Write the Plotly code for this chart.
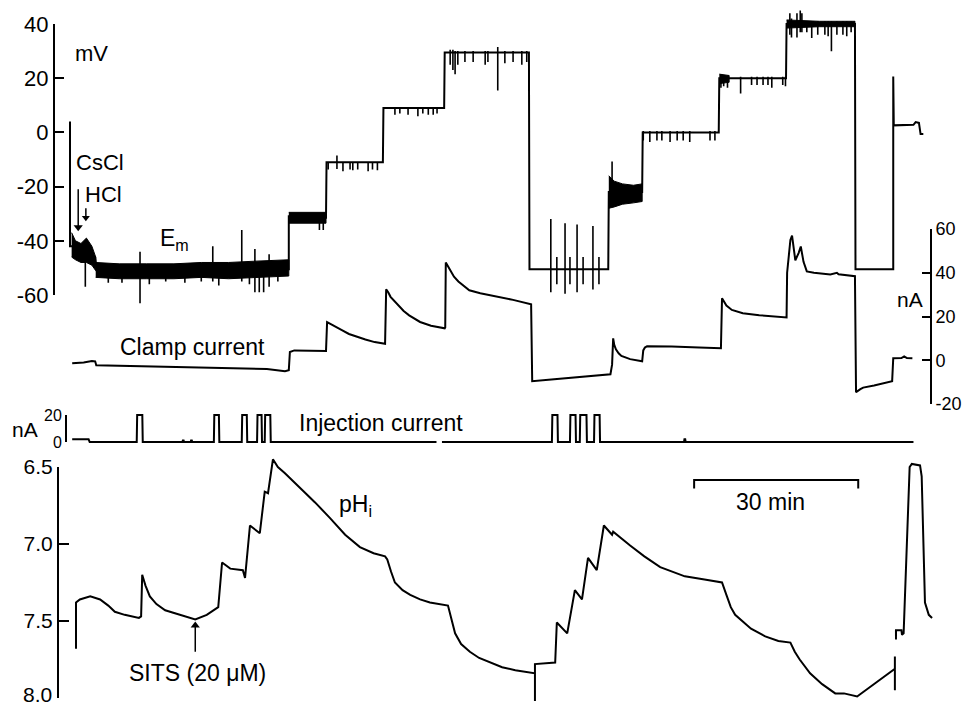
import plotly.graph_objects as go

# ---------------- data (time in min) ----------------
# Membrane potential Em (mV): main step trace
em_t = [0.0, 0.0, 0.4, 1.5, 2.5, 3.5, 4.6, 4.9, 10.0, 20.0, 30.0, 40.0, 40.0,
        46.8, 46.9, 57.2, 57.3, 68.4, 68.5, 83.9, 84.0, 98.4, 98.5, 104.6, 104.7,
        118.6, 118.7, 130.9, 131.0, 143.5, 143.6, 150.5, 150.5, 150.6,
        154.2, 154.6, 155.2, 155.5, 156.0]
em_mv = [4.0, -42, -42, -43, -44, -45, -46, -51, -51, -51, -50.5, -50.5, -31,
         -31.5, -11, -11, 9, 9, 29.5, 29.5, -50.5, -50.5, -22, -22, 0,
         0, 20, 20, 40, 40, -50.5, -50.5, 20.6, 2.6,
         2.8, 3.8, 3.5, -0.6, -0.6]

# Em noise envelopes (upper / lower) for the noisy stretches
noise_a_t = [0.3, 1.0, 2.0, 3.0, 4.0, 4.7]
noise_a_hi = [-37, -40, -41, -39, -42, -46]
noise_a_lo = [-46, -47, -48, -48, -49, -51]
noise_b_t = [4.7, 9.0, 14.0, 19.0, 24.0, 29.0, 34.0, 40.0]
noise_b_hi = [-48, -48.5, -48.5, -48.5, -48, -48, -47.5, -47]
noise_b_lo = [-53.5, -54, -54, -54, -53.5, -54, -53.5, -53]
noise_c_t = [40.0, 43.0, 46.8]
noise_c_hi = [-29.5, -29.5, -29.5]
noise_c_lo = [-33.5, -33.5, -33.5]
noise_d_t = [98.5, 99.5, 101.0, 103.0, 104.6]
noise_d_hi = [-16, -18, -19, -19.5, -19]
noise_d_lo = [-28, -27.5, -26.5, -26, -25.5]
noise_e_t = [131.0, 137.0, 143.5]
noise_e_hi = [41.5, 41, 41]
noise_e_lo = [38.5, 39, 39]
noise_f_t = [118.7, 120.5]
noise_f_hi = [21.5, 21]
noise_f_lo = [18, 18.5]

# Em spikes: time, lower and upper end (mV)
spike_t = [2.8, 7.0, 9.5, 12.8, 14.5, 17.5, 21.0, 24.0, 26.1, 27.2, 31.4, 32.8, 33.8, 34.6, 35.4, 36.4, 38.0,
           45.6, 46.3,
           47.2, 48.8, 49.9, 51.2, 51.7, 52.6, 54.5, 55.3, 56.2,
           59.4, 60.3, 61.8, 63.6, 64.5, 65.5, 66.4, 67.1,
           69.5, 70.0, 70.4, 70.9, 72.2, 73.7, 75.9, 76.4, 78.2, 79.5, 81.0, 82.6, 83.5,
           87.9, 89.0, 90.5, 91.4, 92.7, 93.8, 95.6, 96.7,
           99.1,
           104.8, 106.0, 107.3, 108.2, 109.7, 111.0, 112.1, 113.3, 117.0, 117.9,
           119.0, 119.5, 120.2, 122.6, 124.6, 125.6, 126.7, 127.6, 128.3, 130.3, 130.8,
           131.6, 131.9, 132.9, 133.5, 133.8, 134.7, 135.6, 136.7, 138.0, 138.6, 139.2, 140.2, 141.3, 142.0, 142.8]
spike_lo = [-57, -55.5, -55.5, -63, -56, -55, -55.5, -55, -55, -56.5, -55, -56, -59, -59, -59, -57, -55,
            -36, -36,
            -13.7, -13.5, -14.3, -13.7, -14, -13.7, -14.3, -13.7, -14,
            6.5, 7, 6.5, 6, 7, 6.5, 6.5, 7,
            25, 23, 21.5, 25, 26, 26, 25, 26, 15.5, 25.5, 26, 25, 26,
            -59, -56, -59.5, -56, -59, -56, -58, -56,
            -22,
            -3, -3.5, -3, -3, -3.5, -3, -3, -3.5, -3, -3,
            16.5, 17, 16.5, 14.4, 17.5, 17.5, 17.5, 17.5, 16.5, 17.5, 17,
            36, 35, 35, 37, 37, 37, 34.8, 36, 36, 35.5, 29.9, 36, 36, 35.5, 37]
spike_hi = [-44, -49, -49, -44, -49, -49, -49, -49, -42, -49, -36, -49, -43, -49, -49, -45, -49,
            -30, -30,
            -11, -8.5, -11, -11, -11, -11, -11, -11, -11,
            9, 9, 9, 9, 9, 9, 9, 9,
            30.5, 30.5, 30, 30, 30, 30, 30, 30, 31.5, 30, 30, 30, 30,
            -32, -46, -33.5, -46, -34, -46, -34.5, -46,
            -10.7,
            0.5, 0.5, 0.5, 0.5, 0.5, 0.5, 0.5, 0.5, 0.5, 0.5,
            21.5, 21, 21, 20.5, 20.5, 20.5, 20.5, 20.5, 20.5, 20.5, 20.5,
            44, 42, 44, 45, 44, 41, 41, 41, 41, 41, 41, 41, 41, 41, 41]

# Clamp current (nA)
clamp_t = [0.4, 2.5, 4.0, 4.6, 4.8, 10, 20, 30, 36, 39.3,
           40.0, 40.2, 41.0, 46.8,
           47.0, 47.6, 48.5, 49.7, 51.0, 52.5, 54.0, 55.7, 57.4,
           57.6, 57.8, 58.2, 58.6, 59.3, 60.0, 61.0, 62.0, 63.0, 64.0, 66.0, 68.5,
           68.6, 68.7, 69.1, 69.5, 70.2, 71.0, 72.0, 73.0, 75.0, 78.0, 81.0, 84.3,
           84.5, 88.0, 92.0, 96.0, 98.8,
           99.1, 99.3, 99.5, 99.8, 100.3, 100.8, 102.4, 104.6,
           104.8, 105.1, 105.5, 110.0, 115.0, 119.0,
           119.2, 119.6, 120.0, 121.0, 122.0, 123.0, 126.0, 129.0, 131.0,
           131.1, 131.7, 132.0, 132.3, 132.6, 133.2, 133.6, 134.1, 134.7, 136.0, 139.0,
           140.2, 140.5, 143.5,
           143.7, 144.5, 145.0, 147.0, 150.3,
           150.5, 152.0, 152.5, 153.0, 154.0]
clamp_na = [-1.4, -1.0, -0.3, -0.5, -2.3, -2.6, -3.2, -3.6, -4.0, -5.0,
            -4.6, 3.8, 4.5, 4.2,
            17.4, 16.6, 15.5, 13.8, 12.0, 10.6, 9.5, 8.3, 7.3,
            7.5, 32.4, 31.0, 29.0, 27.0, 25.0, 22.5, 20.5, 19.0, 17.5, 15.8, 14.6,
            15.0, 44.7, 43.0, 41.0, 38.2, 36.0, 33.8, 32.0, 30.6, 29.2, 27.6, 25.6,
            -9.6, -8.8, -8.0, -7.2, -6.4,
            -2.0, 10.0, 7.0, 5.0, 3.2, 2.0, 0.5, -0.5,
            4.5, 5.8, 6.4, 6.3, 5.8, 5.5,
            28.3, 26.3, 25.0, 23.0, 22.2, 21.5, 20.6, 20.0, 19.6,
            40.0, 55.0, 57.0, 50.0, 45.7, 49.0, 52.0, 45.0, 40.6, 40.0, 39.2,
            40.0, 39.3, 38.4,
            -14.6, -13.2, -12.5, -11.5, -9.6,
            0.9, 1.0, 1.8, 1.0, 0.9]

# Injection current pulses (nA)
inj_pre_level = 2.0
inj_start, inj_pre_end, inj_end = 0.4, 3.5, 154.2
pulse_start = [12.2, 26.3, 31.4, 34.2, 35.6, 88.1, 91.4, 93.2, 95.8]
pulse_end = [13.3, 27.3, 32.4, 35.1, 36.7, 89.2, 92.5, 94.5, 96.9]
pulse_amp = 20.0
blip_t = [20.7, 22.2, 112.4]
blip_amp = [1.2, 1.2, 2.0]
inj_gap = [67.0, 68.0]

# Intracellular pH
ph_t = [1.1, 1.1, 1.8, 3.7, 5.5, 7.0, 8.2, 10.0, 12.6, 13.0,
        13.2, 13.8, 14.6, 15.8, 17.4, 20.1, 22.9, 25.0, 27.1,
        27.8, 29.3, 31.6, 32.0,
        32.9, 34.7, 35.6, 36.2,
        37.1, 38.0, 39.3, 42.0, 44.8, 47.5, 50.3, 53.0, 55.5, 57.6,
        58.0, 58.7, 59.4, 60.8, 62.2, 64.0, 65.8, 69.1,
        69.4, 70.0, 70.4, 71.5, 73.1, 74.8, 76.8, 79.0, 81.4, 85.0, 85.0, 85.0,
        88.7, 89.0, 90.9, 92.3, 93.6, 94.7, 96.3,
        97.6, 99.1, 99.3, 102.4, 105.0, 107.9, 110.0, 112.4, 116.0, 119.2,
        120.0, 120.8, 121.6, 122.5, 124.5, 127.1, 129.5, 131.7,
        132.5, 133.4, 135.3, 137.5, 139.9, 141.5, 143.9,
        150.8, 150.8, 150.8,
        None, 151.0, 151.0, 152.0, 152.1, 152.4, 153.5, 153.9, 155.4, 155.7,
        156.0, 156.3, 157.0, 157.6]
ph_val = [7.68, 7.38, 7.36, 7.34, 7.36, 7.40, 7.44, 7.46, 7.48, 7.47,
          7.20, 7.27, 7.34, 7.39, 7.43, 7.46, 7.49, 7.46, 7.41,
          7.12, 7.16, 7.17, 7.22,
          6.88, 6.93, 6.66, 6.67,
          6.45, 6.50, 6.54, 6.63, 6.73, 6.83, 6.94, 7.02, 7.06, 7.08,
          7.10, 7.18, 7.25, 7.30, 7.33, 7.36, 7.38, 7.40,
          7.44, 7.52, 7.58, 7.65, 7.70, 7.74, 7.77, 7.80, 7.82, 7.84, 8.02, 7.78,
          7.77, 7.51, 7.58, 7.30, 7.36, 7.09, 7.17,
          6.88, 6.94, 6.92, 7.01, 7.08, 7.15, 7.18, 7.21, 7.23, 7.25,
          7.33, 7.41, 7.46, 7.49, 7.55, 7.60, 7.63, 7.64,
          7.70, 7.75, 7.84, 7.91, 7.97, 7.97, 7.99,
          7.81, 7.73, 7.95,
          None, 7.62, 7.56, 7.56, 7.59, 7.58, 6.50, 6.48, 6.49, 6.56,
          7.00, 7.38, 7.46, 7.48]

# marker arrows: time, tail value, head value
cscl_arrow = (1.5, -21.0, -35.0)
hcl_arrow = (2.9, -28.0, -31.5)
sits_arrow = (22.9, 7.70, 7.53)

em_ticks = [-60, -40, -20, 0, 20, 40]
em_ticktext = ["-60", "-40", "-20", "0", "20", "40"]
clamp_ticks = [-20, 0, 20, 40, 60]
clamp_ticktext = ["-20", "0", "20", "40", "60"]
inj_ticks = [0, 20]
ph_ticks = [6.5, 7.0, 7.5, 8.0]
ph_ticktext = ["6.5", "7.0", "7.5", ""]   # the bottom label "8.0" is set as a text so it fits the page
ph_bottom_label = "8.0"

scalebar_start, scalebar_len = 114.1, 30
scalebar_ph, scalebar_tick_ph = 6.585, 6.64

# ---------------- layout helpers ----------------
W, H = 968, 707
FONT = "Liberation Sans, Arial, Helvetica, sans-serif"
T0_PX, PX_PER_MIN = 70, 5.47


def px(x):
    return x / W


def py(y):
    return 1 - y / H


def domain_for(rng, v1, y1, v2, y2):
    s = (y2 - y1) / (v2 - v1)
    ya = y1 + (rng[0] - v1) * s
    yb = y1 + (rng[1] - v1) * s
    return [max(0.0, 1 - max(ya, yb) / H), min(1.0, 1 - min(ya, yb) / H)]


# calibration: (value1, pixel1, value2, pixel2)
EM_CAL = (40, 24, -60, 295)
CLAMP_CAL = (60, 229, -20, 404)
INJ_CAL = (20, 415, 0, 442)
PH_CAL = (6.5, 467, 8.0, 698)

# wider data ranges (traces) and exact display ranges (axis lines)
EM_RANGE, EM_SHOW = [-66, 47], [-60, 40]
CLAMP_RANGE, CLAMP_SHOW = [-22, 62], [-20, 60]
INJ_RANGE, INJ_SHOW = [-3, 23], [0, 20]
PH_RANGE, PH_SHOW = [8.05, 6.42], [8.0, 6.5]

LINE = dict(color="black", width=2)
fig = go.Figure()

# Em noise bands
for bt, bhi, blo in [(noise_a_t, noise_a_hi, noise_a_lo), (noise_b_t, noise_b_hi, noise_b_lo),
                     (noise_c_t, noise_c_hi, noise_c_lo), (noise_d_t, noise_d_hi, noise_d_lo),
                     (noise_e_t, noise_e_hi, noise_e_lo), (noise_f_t, noise_f_hi, noise_f_lo)]:
    fig.add_trace(go.Scatter(x=bt + bt[::-1], y=bhi + blo[::-1], fill="toself",
                             fillcolor="black", line=dict(color="black", width=1),
                             mode="lines", yaxis="y", hoverinfo="skip", showlegend=False))

# Em main trace
fig.add_trace(go.Scatter(x=em_t, y=em_mv, mode="lines", line=LINE, yaxis="y", showlegend=False))

# Em spikes
sx, sy = [], []
for t, lo, hi in zip(spike_t, spike_lo, spike_hi):
    sx += [t, t, None]
    sy += [lo, hi, None]
fig.add_trace(go.Scatter(x=sx, y=sy, mode="lines", line=dict(color="black", width=1.6),
                         yaxis="y", showlegend=False))

# Clamp current
fig.add_trace(go.Scatter(x=clamp_t, y=clamp_na, mode="lines", line=LINE, yaxis="y2", showlegend=False))

# Injection current
events = sorted([(s, e, pulse_amp) for s, e in zip(pulse_start, pulse_end)] +
                [(t - 0.15, t + 0.15, a) for t, a in zip(blip_t, blip_amp)])
ix = [inj_start, inj_pre_end - 0.1, inj_pre_end + 0.1]
iy = [inj_pre_level, inj_pre_level, 0]
gap_done = False
for s, e, a in events:
    if not gap_done and s > inj_gap[0]:
        ix += [inj_gap[0], None, inj_gap[1]]
        iy += [0, None, 0]
        gap_done = True
    ix += [s, s + 0.08, e - 0.08, e]
    iy += [0, a, a, 0]
ix.append(inj_end)
iy.append(0)
fig.add_trace(go.Scatter(x=ix, y=iy, mode="lines", line=LINE, yaxis="y3", showlegend=False))

# pH
fig.add_trace(go.Scatter(x=ph_t, y=ph_val, mode="lines", line=LINE, yaxis="y4",
                         connectgaps=False, showlegend=False))

# 30 min scale bar
fig.add_trace(go.Scatter(
    x=[scalebar_start, scalebar_start, scalebar_start + scalebar_len, scalebar_start + scalebar_len],
    y=[scalebar_tick_ph, scalebar_ph, scalebar_ph, scalebar_tick_ph],
    mode="lines", line=LINE, yaxis="y4", showlegend=False))

# arrows (shaft + head marker)
for (t, tail, head), ya, sym, size in [(cscl_arrow, "y", "triangle-down", 8),
                                       (hcl_arrow, "y", "triangle-down", 7),
                                       (sits_arrow, "y4", "triangle-up", 8)]:
    fig.add_trace(go.Scatter(x=[t, t], y=[tail, head], mode="lines", yaxis=ya,
                             line=dict(color="black", width=1.5), hoverinfo="skip", showlegend=False))
    fig.add_trace(go.Scatter(x=[t], y=[head], mode="markers", yaxis=ya, cliponaxis=False,
                             marker=dict(symbol=sym, size=size, color="black", line=dict(width=0)),
                             hoverinfo="skip", showlegend=False))

# empty traces so the display axes are drawn
for ya in ["y5", "y6", "y7", "y8"]:
    fig.add_trace(go.Scatter(x=[None], y=[None], yaxis=ya, mode="lines",
                             hoverinfo="skip", showlegend=False))

hidden = dict(visible=False, anchor="free", position=0, fixedrange=True, showgrid=False,
              zeroline=False, automargin=False)
shown = dict(showgrid=False, zeroline=False, showline=True, linecolor="black", linewidth=2,
             ticks="inside", tickwidth=2, tickcolor="black", anchor="free", fixedrange=True,
             automargin=False, ticklabeloverflow="allow")

fig.update_layout(
    template="none",
    width=W, height=H, autosize=False, margin=dict(l=0, r=0, t=0, b=0, pad=0),
    paper_bgcolor="white", plot_bgcolor="rgba(0,0,0,0)",
    font=dict(family=FONT, color="black", size=22),
    showlegend=False,
    xaxis=dict(range=[(0 - T0_PX) / PX_PER_MIN, (W - T0_PX) / PX_PER_MIN], domain=[0, 1],
               visible=False, fixedrange=True, automargin=False),
    # data axes (hidden)
    yaxis=dict(domain=domain_for(EM_RANGE, *EM_CAL), range=EM_RANGE, **hidden),
    yaxis2=dict(domain=domain_for(CLAMP_RANGE, *CLAMP_CAL), range=CLAMP_RANGE, **hidden),
    yaxis3=dict(domain=domain_for(INJ_RANGE, *INJ_CAL), range=INJ_RANGE, **hidden),
    yaxis4=dict(domain=domain_for(PH_RANGE, *PH_CAL), range=PH_RANGE, **hidden),
    # display axes
    yaxis5=dict(domain=domain_for(EM_SHOW, *EM_CAL), range=EM_SHOW, tickvals=em_ticks,
                ticktext=em_ticktext, ticklen=9, position=px(54), tickfont=dict(size=22), **shown),
    yaxis6=dict(domain=domain_for(CLAMP_SHOW, *CLAMP_CAL), range=CLAMP_SHOW, tickvals=clamp_ticks,
                ticktext=clamp_ticktext, ticklen=8, side="right", position=px(931),
                tickfont=dict(size=18), **shown),
    yaxis7=dict(domain=domain_for(INJ_SHOW, *INJ_CAL), range=INJ_SHOW, tickvals=inj_ticks,
                ticklen=6, position=px(66), tickfont=dict(size=16), **shown),
    yaxis8=dict(domain=domain_for(PH_SHOW, *PH_CAL), range=PH_SHOW, tickvals=ph_ticks,
                ticktext=ph_ticktext, ticklen=10, position=px(58), tickfont=dict(size=21), **shown),
)

# text labels
labels = [
    ("mV", 91, 53, 22),
    ("CsCl", 100, 163, 22),
    ("HCl", 103, 195, 22),
    ("E<sub>m</sub>", 174, 239, 23),
    ("Clamp current", 192, 347, 23),
    ("nA", 910, 299, 21),
    ("Injection current", 381, 423, 23),
    ("nA", 25, 429, 21),
    ("pH<sub>i</sub>", 355, 505, 23),
    ("SITS (20 \u03bcM)", 197, 673, 23),
    ("30 min", 770, 502, 23),
]
ann = [dict(text=t, x=px(x), y=py(y), xref="paper", yref="paper", showarrow=False,
            xanchor="center", yanchor="middle", font=dict(size=s, family=FONT, color="black"))
       for t, x, y, s in labels]
ann.append(dict(text=ph_bottom_label, x=px(53), y=0, xref="paper", yref="paper", showarrow=False,
                xanchor="right", yanchor="bottom", borderpad=0,
                font=dict(size=21, family=FONT, color="black")))
fig.update_layout(annotations=ann)

fig.write_html("out.html", config={"displayModeBar": False},
               post_script="document.body.style.margin='0px';")
